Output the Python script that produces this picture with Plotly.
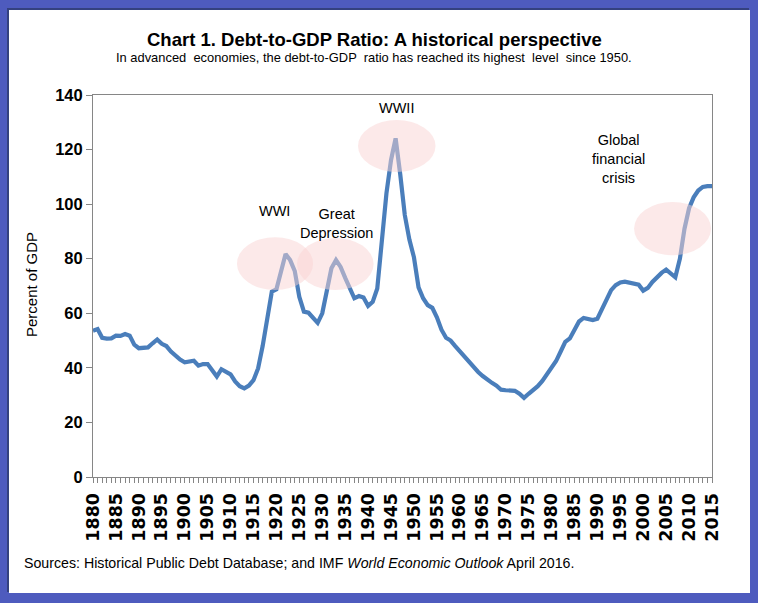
import plotly.graph_objects as go

years = list(range(1880, 2016))
debt_ratio = [
    53.6, 54.2, 51.0, 50.7, 50.8, 51.8, 51.7, 52.4, 51.8, 48.5,   # 1880-1889
    47.2, 47.4, 47.5, 49.0, 50.4, 48.8, 48.0, 46.0, 44.3, 43.0,   # 1890-1899
    42.0, 42.2, 42.6, 40.8, 41.4, 41.4, 39.0, 36.8, 39.5, 38.5,   # 1900-1909
    37.6, 35.0, 33.3, 32.5, 33.5, 35.5, 39.8, 48.0, 57.0, 67.9,   # 1910-1919
    68.8, 76.0, 81.7, 79.5, 75.5, 66.0, 60.6, 60.2, 58.3, 56.5,   # 1920-1929
    60.0, 69.0, 76.5, 79.5, 77.0, 73.0, 69.0, 65.5, 66.3, 65.8,   # 1930-1939
    62.7, 64.2, 69.1, 85.0, 104.0, 116.2, 124.1, 111.0, 96.0, 87.0,  # 1940-1949
    80.5, 69.5, 65.5, 63.0, 62.0, 58.5, 54.0, 51.0, 50.0, 48.0,   # 1950-1959
    46.0, 44.0, 42.0, 40.5, 38.5, 37.0, 35.5, 34.5, 33.5, 32.0,   # 1960-1969
    31.8, 31.7, 31.6, 30.5, 29.0, 30.5, 31.8, 33.3, 35.2, 37.5,   # 1970-1979
    40.3, 42.5, 46.0, 49.5, 50.8, 54.0, 57.0, 58.3, 58.0, 57.5,   # 1980-1989
    58.0, 61.5, 65.5, 68.5, 70.3, 71.3, 71.6, 71.3, 71.0, 70.5,   # 1990-1999
    68.3, 69.3, 71.5, 73.3, 74.8, 76.0, 74.5, 73.2, 80.0, 91.0,   # 2000-2009
    98.5, 102.5, 105.0, 106.3, 106.6, 106.6                        # 2010-2015
]
x_tick_years = list(range(1880, 2016, 5))
y_ticks = [0, 20, 40, 60, 80, 100, 120, 140]

# Highlight ellipses: (label, x0, x1, y0, y1)
highlights = [
    ("WWI", 1911.4, 1928.0, 68.5, 87.9),
    ("Great Depression", 1924.5, 1941.2, 68.5, 87.6),
    ("WWII", 1937.8, 1954.7, 111.8, 130.8),
    ("Global financial crisis", 1998.0, 2014.8, 81.3, 100.8),
]
labels = [
    ("WWI", 1919.5, 97.5),
    ("Great<br>Depression", 1933.0, 93.0),
    ("WWII", 1946.1, 135.2),
    ("Global<br>financial<br>crisis", 1994.5, 116.5),
]

W, H = 758, 603
L, R, T, B = 93, 46, 95, 126
pw, ph = W - L - R, H - T - B

def px(x):
    return (x - L) / pw

def py(y):
    return (H - B - y) / ph

fig = go.Figure()
fig.add_trace(go.Scatter(
    x=years, y=debt_ratio, mode="lines",
    line=dict(color="#4a7ebb", width=4.2),
    hoverinfo="skip", showlegend=False,
))

shapes = [
    # dark shadow edge of the white card
    dict(type="rect", xref="paper", yref="paper", layer="below",
         x0=px(7), x1=px(749), y0=py(592), y1=py(8),
         fillcolor="#34417f", line=dict(width=0)),
    # white card
    dict(type="rect", xref="paper", yref="paper", layer="below",
         x0=px(9), x1=px(750), y0=py(593), y1=py(10),
         fillcolor="white", line=dict(width=0)),
]
for name, x0, x1, y0, y1 in highlights:
    shapes.append(dict(type="circle", xref="x", yref="y", layer="above",
                       x0=x0, x1=x1, y0=y0, y1=y1,
                       fillcolor="rgba(250,212,212,0.5)", line=dict(width=0)))

annotations = []
for text, x, y in labels:
    annotations.append(dict(text=text, x=x, y=y, xref="x", yref="y",
                            showarrow=False, align="center",
                            font=dict(family="Liberation Sans, Arial", size=14.5, color="#000")))

annotations += [
    dict(text="<b>Chart 1. Debt-to-GDP Ratio: A historical perspective</b>",
         x=px(374), y=py(40), xref="paper", yref="paper", showarrow=False,
         xanchor="center", yanchor="middle",
         font=dict(family="Liberation Sans, Arial", size=18.5, color="#000")),
    dict(text="In advanced  economies, the debt-to-GDP  ratio has reached its highest  level  since 1950.",
         x=px(374), y=py(58), xref="paper", yref="paper", showarrow=False,
         xanchor="center", yanchor="middle",
         font=dict(family="Liberation Sans, Arial", size=12.9, color="#000")),
    dict(text="Percent of GDP", textangle=-90,
         x=px(31), y=py(285), xref="paper", yref="paper", showarrow=False,
         xanchor="center", yanchor="middle",
         font=dict(family="Liberation Sans, Arial", size=15, color="#000")),
    dict(text="Sources: Historical Public Debt Database; and IMF <i>World Economic Outlook</i> April 2016.",
         x=px(22), y=py(563), xref="paper", yref="paper", showarrow=False,
         xanchor="left", yanchor="middle",
         font=dict(family="Liberation Sans, Arial", size=14.2, color="#000")),
]

fig.update_layout(
    width=W, height=H,
    margin=dict(l=L, r=R, t=T, b=B, autoexpand=False),
    paper_bgcolor="#4e5bbe",
    plot_bgcolor="white",
    shapes=shapes,
    annotations=annotations,
    showlegend=False,
)
fig.update_xaxes(
    range=[1880, 2015], tickmode="array", tickvals=x_tick_years,
    ticktext=[str(v) for v in x_tick_years], tickangle=-90,
    ticks="outside", ticklen=5, tickcolor="#868686",
    showline=True, linecolor="#868686", linewidth=1, mirror=True,
    showgrid=False, zeroline=False, ticklabelstandoff=3,
    minor=dict(dtick=1, tick0=1880, ticks="outside", ticklen=5, tickcolor="#868686", showgrid=False),
    tickfont=dict(family="DejaVu Sans", size=17.5, color="#000", weight="bold"),
)
fig.update_yaxes(
    range=[0, 140], tickmode="array", tickvals=y_ticks,
    ticks="outside", ticklen=6, tickcolor="#868686",
    showline=True, linecolor="#868686", linewidth=1, mirror=True,
    showgrid=False, zeroline=False,
    tickfont=dict(family="Liberation Sans, Arial", size=16.5, color="#000", weight="bold"),
)

fig.write_html("out.html", config={"displayModeBar": False},
               post_script="document.body.style.margin='0';document.body.style.padding='0';")
